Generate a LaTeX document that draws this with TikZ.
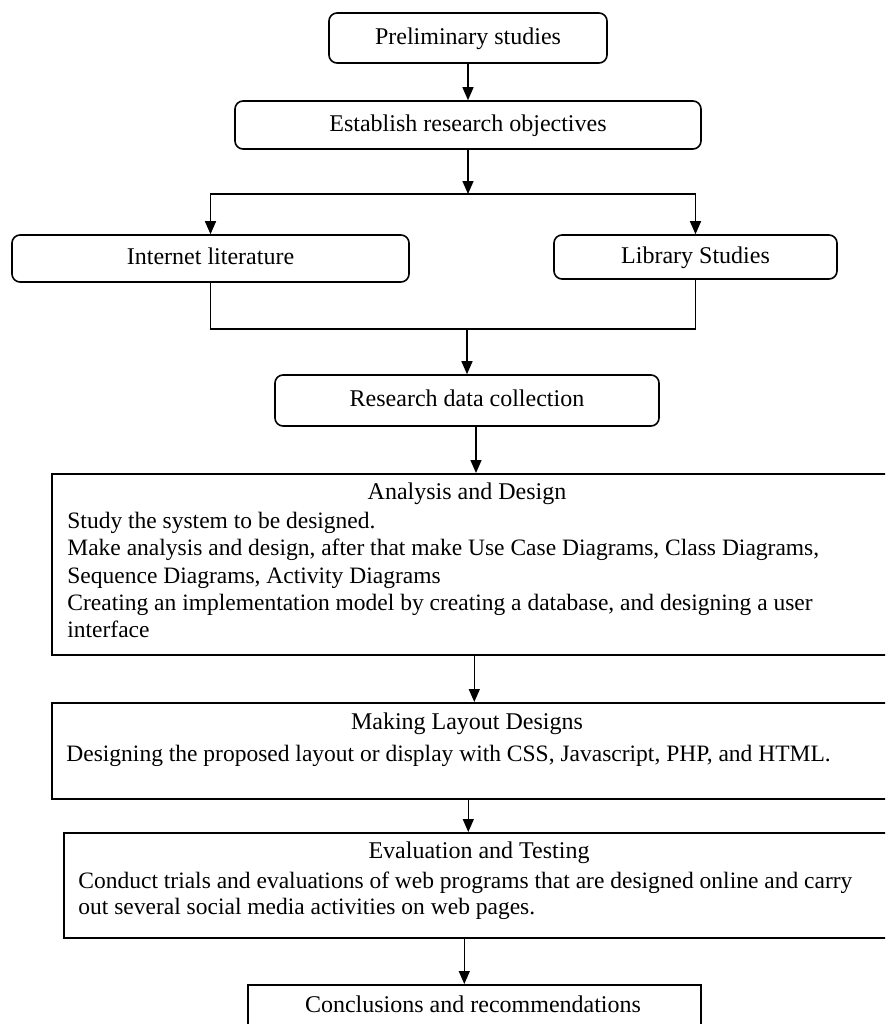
\documentclass[tikz,border=0pt]{standalone}
\usepackage{fontspec}
\setmainfont{Liberation Serif}
\usetikzlibrary{positioning,arrows.meta}

\begin{document}
\begin{tikzpicture}[
	x=0.5pt, y=-0.5pt,
	every node/.style={font=\fontsize{12}{13.6}\selectfont},
	stepround/.style={draw, rounded corners=4pt, line width=0.8pt, inner sep=0pt, text height=8.5pt, text depth=2.5pt},
	stepbox/.style={draw, line width=0.8pt, inner sep=0pt},
	body/.style={anchor=north west, align=left, inner sep=0pt, font=\fontsize{11.75}{13.6}\selectfont},
	arrow/.style={-{Triangle[length=6.5pt, width=5.5pt]}, line width=0.7pt},
	link/.style={line width=0.7pt}
	]
	
	\useasboundingbox (0,0) rectangle (885,1024);
	\clip (0,0) rectangle (885,1024);
	
	% top part, rounded boxes
	\node[stepround, minimum width=139pt, minimum height=25pt] (prelim) at (468,38) {Preliminary studies};
	\node[stepround, minimum width=233pt, minimum height=24pt] (estab) at (468,125) {Establish research objectives};
	\node[stepround, minimum width=198.5pt, minimum height=23.5pt] (inet) at (210.5,258.5) {Internet literature};
	\node[stepround, minimum width=141.5pt, minimum height=22pt] (lib) at (695.5,257) {Library Studies};
	\node[stepround, minimum width=192pt, minimum height=25.5pt] (research) at (467,400.5) {Research data collection};
	
	\coordinate (split) at (468,194);
	\coordinate (join) at (467,329);
	
	% lower part, plain boxes
	\node[stepbox, anchor=north west, minimum width=419.5pt, minimum height=90.5pt] (ana) at (51,473) {};
	\node (anatitle) at (467,494) {Analysis and Design};
	\node[body] (anatext) at (67,512) {Study the system to be designed.\\
		Make analysis and design, after that make Use Case Diagrams, Class Diagrams,\\
		Sequence Diagrams, Activity Diagrams\\
		Creating an implementation model by creating a database, and designing a user\\
		interface};
	
	\node[stepbox, anchor=north west, minimum width=419.5pt, minimum height=48pt] (layout) at (51,702) {};
	\node (layouttitle) at (467,724) {Making Layout Designs};
	\node[body] (layouttext) at (66,745) {Designing the proposed layout or display with CSS, Javascript, PHP, and HTML.};
	
	\node[stepbox, anchor=north west, minimum width=413.5pt, minimum height=52.5pt] (eval) at (63,832) {};
	\node (evaltitle) at (479,853) {Evaluation and Testing};
	\node[body, font=\fontsize{11.75}{13}\selectfont] (evaltext) at (78,872) {Conduct trials and evaluations of web programs that are designed online and carry\\
		out several social media activities on web pages.};
	
	\node[stepbox, anchor=north west, minimum width=226.5pt, minimum height=40pt] (concl) at (247,984) {};
	\node (concltitle) at (473,1004) {Conclusions and recommendations};
	
	% connectors
	\draw[arrow] (prelim) -- (estab);
	\draw[arrow] (estab) -- (split);
	\draw[arrow] (split) -| (inet);
	\draw[arrow] (split) -| (lib);
	\draw[link] (inet) |- (join) -| (lib);
	\draw[arrow] (join) -- (research);
	
	\draw[arrow] ([xshift=4.5pt]research.south) coordinate (r1) -- (r1 |- ana.north);
	\draw[arrow] ([xshift=1.5pt]ana.south) coordinate (a1) -- (a1 |- layout.north);
	\draw[arrow] ([xshift=-1.5pt]layout.south) coordinate (l1) -- (l1 |- eval.north);
	\draw[arrow] ([xshift=-6.5pt]eval.south) coordinate (e1) -- (e1 |- concl.north);
	
\end{tikzpicture}
\end{document}
